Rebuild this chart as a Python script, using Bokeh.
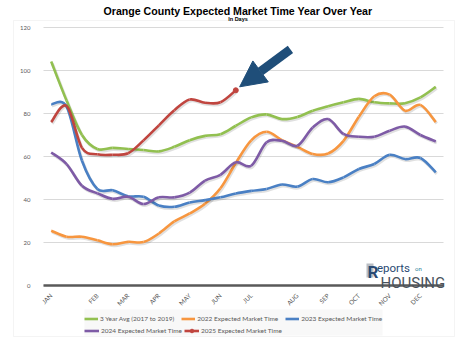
import numpy as np
from math import pi
from bokeh.plotting import figure
from bokeh.models import (Range1d, FixedTicker, Legend, LegendItem, Label, Arrow,
                          NormalHead, BoxAnnotation, ColumnDataSource)
from bokeh.embed import file_html
from bokeh.resources import INLINE

# ---------------- data (bi-weekly readings, days) ----------------
tick_positions = [0, 3, 5, 7, 9, 11, 13, 16, 18, 20, 22, 24]
tick_labels = ["JAN", "FEB", "MAR", "APR", "MAY", "JUN", "JUL", "AUG", "SEP", "OCT", "NOV", "DEC"]
y_ticks = [0, 20, 40, 60, 80, 100, 120]

avg_2017_2019 = [104.2, 86, 70, 63.5, 64, 63.5, 63, 62.4, 64.5, 67.6, 69.6, 70.4, 74.3,
                 78.2, 79.6, 77.4, 78.4, 81.3, 83.4, 85.2, 86.8, 85.2, 84.7, 84.8, 87.5, 92.4]
y2022 = [25.5, 22.7, 22.7, 21, 19.2, 20.3, 20.2, 24.2, 29.8, 33.5, 38, 45.2, 57,
         67.5, 71.5, 67.6, 64.5, 61.2, 61.4, 67.3, 78.5, 88, 88.8, 81.3, 84, 76]
y2023 = [84.3, 83.2, 58, 44.9, 44.3, 41.5, 41.3, 37.2, 36.6, 38.6, 39.7, 41, 42.8,
         44, 44.9, 47, 46, 49.5, 48, 50.3, 54.2, 56.5, 60.8, 58.8, 59.3, 52.6]
y2024 = [61.9, 56.5, 46.4, 42.9, 40.3, 41.3, 37.9, 41, 41, 43.2, 48.8, 51.5, 57.3,
         55.7, 66.6, 67.3, 65, 73.5, 77.4, 70.5, 69.2, 69.2, 72, 73.9, 70, 67]
y2025 = [76, 83.5, 64, 61, 60.8, 61.5, 67.5, 74.5, 81.5, 86.5, 85, 85.2, 90.8]

series_names = ["3 Year Avg (2017 to 2019)", "2022 Expected Market Time",
                "2023 Expected Market Time", "2024 Expected Market Time",
                "2025 Expected Market Time"]
series_values = [avg_2017_2019, y2022, y2023, y2024, y2025]
series_colors = ["#92c050", "#f7963f", "#4a80c4", "#7e5ba6", "#c0453f"]

# ---------------- geometry ----------------
W, H = 475, 351
PL, PR, PT, PB = 43, 443, 27, 285        # plot area in page pixels
N = len(avg_2017_2019)
XA, XB = -0.5, N - 0.5                    # category span
YA, YB = y_ticks[0], y_ticks[-1]


def X(px):
    return XA + (px - PL) * (XB - XA) / (PR - PL)


def Y(py):
    return YA + (PB - py) * (YB - YA) / (PB - PT)


p = figure(width=W, height=H, output_backend="svg", toolbar_location=None,
           x_range=Range1d(X(0), X(W)), y_range=Range1d(Y(H), Y(0)),
           min_border=0, min_border_left=0, min_border_right=0,
           min_border_top=0, min_border_bottom=0)
p.outline_line_color = None
p.background_fill_color = "white"
p.border_fill_color = "white"
p.xgrid.visible = False
p.ygrid.visible = False

# chart border and legend background
p.add_layout(BoxAnnotation(left=X(13), right=X(454), top=Y(20), bottom=Y(336),
                           fill_alpha=0, line_color="#d9d9d9", line_width=1, level="underlay"))
p.add_layout(BoxAnnotation(left=X(84), right=X(382), top=Y(309), bottom=Y(335),
                           fill_color="#f8f8f8", fill_alpha=1, line_color=None, level="underlay"))

# horizontal gridlines at the y ticks
p.segment(x0=[XA] * len(y_ticks), x1=[XB] * len(y_ticks), y0=y_ticks, y1=y_ticks,
          line_color="#d9d9d9", line_width=1)

p.yaxis.fixed_location = XA
p.yaxis.bounds = (YA, YB)
p.yaxis.ticker = FixedTicker(ticks=y_ticks)
p.yaxis.axis_line_color = None
p.yaxis.major_tick_line_color = None
p.yaxis.minor_tick_line_color = None
p.yaxis.major_label_text_font = "Lato"
p.yaxis.major_label_text_font_size = "6px"
p.yaxis.major_label_text_color = "#595959"
p.yaxis.major_label_standoff = 7

p.xaxis.fixed_location = YA
p.xaxis.bounds = (XA, XB)
p.xaxis.ticker = FixedTicker(ticks=tick_positions)
p.xaxis.major_label_overrides = {t: l for t, l in zip(tick_positions, tick_labels)}
p.xaxis.axis_line_color = "#595959"
p.xaxis.axis_line_width = 2.5
p.xaxis.major_tick_line_color = None
p.xaxis.minor_tick_line_color = None
p.xaxis.major_label_orientation = pi / 4
p.xaxis.major_label_text_font = "Lato"
p.xaxis.major_label_text_font_size = "6.3px"
p.xaxis.major_label_text_color = "#595959"
p.xaxis.major_label_standoff = 3


def smooth(xs, ys):
    x = np.asarray(xs, float)
    y = np.asarray(ys, float)
    n = len(x)
    xp = np.concatenate([[x[0]], x, [x[-1]]])
    yp = np.concatenate([[y[0]], y, [y[-1]]])
    return dict(
        x0=x[:-1], y0=y[:-1], x1=x[1:], y1=y[1:],
        cx0=x[:-1] + (xp[2:n + 1] - xp[0:n - 1]) / 6.0,
        cy0=y[:-1] + (yp[2:n + 1] - yp[0:n - 1]) / 6.0,
        cx1=x[1:] - (xp[3:n + 2] - xp[1:n]) / 6.0,
        cy1=y[1:] - (yp[3:n + 2] - yp[1:n]) / 6.0,
    )


NAN = float("nan")
items = []
for name, vals, col in zip(series_names, series_values, series_colors):
    xs = list(range(len(vals)))
    seg = smooth(xs, vals)
    sh = dict(seg)
    for k in ("x0", "x1", "cx0", "cx1"):
        sh[k] = sh[k] + (XB - XA) / (PR - PL) * 1.0
    for k in ("y0", "y1", "cy0", "cy1"):
        sh[k] = sh[k] - (YB - YA) / (PB - PT) * 1.5
    p.bezier(x0="x0", y0="y0", x1="x1", y1="y1", cx0="cx0", cy0="cy0", cx1="cx1", cy1="cy1",
             source=ColumnDataSource(sh), line_color="#000000", line_alpha=0.12, line_width=3)
    p.bezier(x0="x0", y0="y0", x1="x1", y1="y1", cx0="cx0", cy0="cy0", cx1="cx1", cy1="cy1",
             source=ColumnDataSource(seg), line_color=col, line_width=2.6)
    swatch = p.line(x=[NAN, NAN], y=[NAN, NAN], line_color=col, line_width=2.6)
    rends = [swatch]
    if name.startswith("2025"):
        p.scatter(x=[xs[-1]], y=[vals[-1]], size=5, fill_color=col, line_color=col)
        rends.append(p.scatter(x=[NAN], y=[NAN], size=5, fill_color=col, line_color=col))
    items.append(LegendItem(label=name, renderers=rends))

common = dict(orientation="horizontal", label_text_font="Lato", label_text_font_size="6.5px",
              label_text_color="#595959", glyph_height=9, label_height=9,
              label_standoff=2, padding=2, margin=0, background_fill_alpha=0,
              border_line_color=None)
leg1 = Legend(items=items[:3], location=(84, H - 323), spacing=7, glyph_width=14, **common)
leg2 = Legend(items=items[3:], location=(84, H - 334.5), spacing=2, glyph_width=15, **common)
p.add_layout(leg1, "center")
p.add_layout(leg2, "center")

# arrow pointing at the latest 2025 reading
last_i = len(y2025) - 1
p.add_layout(Arrow(x_start=last_i + 3.55, y_start=y2025[-1] + 19.0,
                   x_end=last_i + 0.25, y_end=y2025[-1] + 1.6,
                   line_color="#1f4e79", line_width=9,
                   end=NormalHead(size=26, fill_color="#1f4e79", line_color="#1f4e79")))

# titles
p.add_layout(Label(x=X(237.5), y=Y(10), text="Orange County Expected Market Time Year Over Year",
                   text_align="center", text_baseline="alphabetic",
                   text_font="Liberation Sans", text_font_style="bold",
                   text_font_size="10.6px", text_color="#000000"))
p.add_layout(Label(x=X(237.5), y=Y(18.5), text="In Days", text_align="center",
                   text_baseline="alphabetic", text_font="Liberation Sans",
                   text_font_style="bold", text_font_size="5.5px", text_color="#000000"))

# logo
p.add_layout(BoxAnnotation(left=X(366), right=X(373), top=Y(263), bottom=Y(277),
                           fill_color="#b9bec4", fill_alpha=1, line_color=None))
p.add_layout(Label(x=X(367), y=Y(271), text="R", text_font="Roboto", text_font_style="bold",
                   text_font_size="17px", text_color="#2a4a73", text_baseline="alphabetic"))
p.add_layout(Label(x=X(376.5), y=Y(267.5), text="eports", text_font="Roboto",
                   text_font_size="11.5px", text_color="#2a4a73", text_baseline="alphabetic"))
p.add_layout(Label(x=X(414.5), y=Y(267.5), text="on", text_font="Roboto",
                   text_font_size="6px", text_color="#2f7f9a", text_baseline="alphabetic"))
p.add_layout(Label(x=X(380), y=Y(282.5), text="HOUSING", text_font="Roboto",
                   text_font_size="15px", text_color="#48525c", text_baseline="alphabetic"))

open("out.html", "w").write(file_html(p, INLINE))
